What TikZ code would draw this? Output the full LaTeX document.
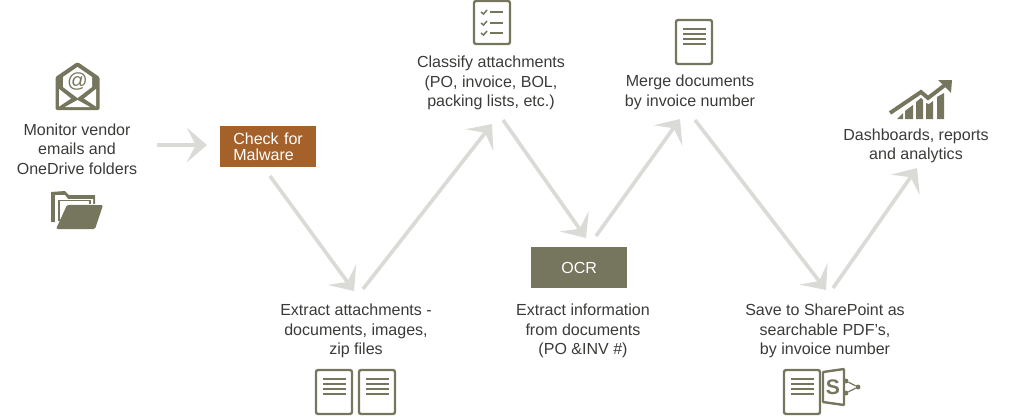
\documentclass[tikz,border=0pt]{standalone}
\usepackage{fontspec}
\setmainfont{Liberation Sans}
\usepackage{xcolor}
\usetikzlibrary{
  positioning,
  arrows.meta
}
\definecolor{olive}{HTML}{76765E}
\definecolor{rust}{HTML}{A5612A}
\definecolor{flow}{HTML}{DADAD6}
\definecolor{ink}{HTML}{3A3A38}
\tikzset{
  caption/.style={align=center,text=ink,font=\fontsize{11.4}{13.9}\selectfont,inner sep=0pt},
  stepbox/.style={fill=#1,text=white,font=\fontsize{11.4}{11.4}\selectfont,inner sep=0pt,minimum width=2.39cm,minimum height=1.025cm,anchor=north west},
  flowline/.style={draw=flow,line width=2.6pt,-{Stealth[length=14.5pt,width=25pt,inset=6.5pt]}},
  iconline/.style={draw=olive,line width=1.7pt,rounded corners=1.5pt},
  rowline/.style={draw=olive,line width=0.9pt},
  pics/docicon/.style={code={
    \draw [iconline] (0,0) rectangle (36,44);
    \foreach \y in {9,14,19,24}{
      \draw [rowline] (7,\y) -- (30,\y);
    }
  }}
}
\begin{document}
\begin{tikzpicture}[x=0.025cm,y=-0.025cm]
  \useasboundingbox (0,0) rectangle (1024,416);

  % labels
  \node [caption] (monitor) at (77,149) {Monitor vendor\\emails and\\OneDrive folders};
  \node [caption] (attach) at (356,331) {Extract attachments -\\documents, images,\\zip files};
  \node [caption] (classify) at (491,83) {Classify attachments\\(PO, invoice, BOL,\\packing lists, etc.)};
  \node [caption] (info) at (583,331) {Extract information\\from documents\\(PO \&INV \#)};
  \node [caption] (merge) at (690,92.5) {Merge documents\\by invoice number};
  \node [caption] (save) at (825,331) {Save to SharePoint as\\searchable PDF's,\\by invoice number};
  \node [caption] (dash) at (916,146) {Dashboards, reports\\and analytics};

  % boxes
  \node [stepbox=rust,text width=2.39cm,align=left] (malware) at (220,126) {\hspace*{0.325cm}Check for\\\hspace*{0.325cm}Malware};
  \node [stepbox=olive] (ocr) at (531,247) {OCR};

  % arrows
  \coordinate (a1) at (157,145);
  \coordinate (a2) at (207,145);
  \coordinate (b1) at (270,176);
  \coordinate (b2) at (354,291);
  \coordinate (c1) at (363,289);
  \coordinate (c2) at (492,124);
  \coordinate (d1) at (503,120);
  \coordinate (d2) at (586,238);
  \coordinate (e1) at (596,236);
  \coordinate (e2) at (680,119);
  \coordinate (f1) at (695,120);
  \coordinate (f2) at (826,290);
  \coordinate (g1) at (833,288);
  \coordinate (g2) at (917,168);
  \draw [flowline] (a1) -- (a2);
  \draw [flowline] (b1) -- (b2);
  \draw [flowline] (c1) -- (c2);
  \draw [flowline] (d1) -- (d2);
  \draw [flowline] (e1) -- (e2);
  \draw [flowline] (f1) -- (f2);
  \draw [flowline] (g1) -- (g2);

  % envelope
  \fill [olive,rounded corners=1pt] (77.5,62) -- (99.5,77) -- (99.5,110) -- (55.5,110) -- (55.5,77) -- cycle;
  \fill [white] (77.5,67) -- (92,77) -- (92,87) -- (77.5,98) -- (63,87) -- (63,77) -- cycle;
  \fill [white] (59,89) -- (71,98.5) -- (59,106.5) -- cycle;
  \fill [white] (96,89) -- (84,98.5) -- (96,106.5) -- cycle;
  \fill [white] (65,107) -- (77.5,100) -- (90,107) -- cycle;
  \node [inner sep=0pt,text=olive,font=\fontsize{14.5}{14.5}\selectfont] (at) at (77.5,82) {@};

  % folder
  \fill [olive] (51,192) -- (65,191) -- (69,195) -- (95,195) -- (95,204) -- (68,204) -- (56,222) -- (51,222) -- cycle;
  \fill [white] (55,195) -- (65,195) -- (68,199) -- (93,199) -- (93,204) -- (68,204) -- (58,222) -- (55,222) -- cycle;
  \draw [olive,line width=1pt] (59,221) -- (59,200.5) -- (90,200.5) -- (90,204);
  \fill [olive,rounded corners=1pt] (67,205) -- (103,205) -- (95,229) -- (56,229) -- cycle;

  % documents
  \pic at (316,370) {docicon};
  \pic at (359,370) {docicon};
  \pic at (676,20) {docicon};
  \pic at (784,370) {docicon};

  % checklist
  \draw [iconline] (474,1) rectangle (510,44);
  \foreach \y in {12,23,33}{
    \draw [olive,line width=1.1pt] (481,\y) -- (483.5,\y+2) -- (487,\y-2);
    \draw [rowline,line width=1.1pt] (490,\y) -- (503,\y);
  }

  % sharepoint
  \draw [iconline,rounded corners=0.5pt] (823,372) -- (844,369) -- (844,405) -- (823,402) -- cycle;
  \node [inner sep=0pt,text=olive,font=\fontsize{15}{15}\selectfont\bfseries] (spS) at (833,387) {S};
  \node [circle,fill=olive,inner sep=0pt,minimum size=3.5pt] (sp1) at (846,381) {};
  \node [circle,fill=olive,inner sep=0pt,minimum size=3.5pt] (sp2) at (846,393) {};
  \node [circle,fill=olive,inner sep=0pt,minimum size=3.5pt] (sp3) at (858,387) {};
  \draw [olive,line width=0.9pt] (sp1) -- (sp3) -- (sp2);

  % chart
  \draw [olive,line width=2.8pt] (890,113) -- (921,92) -- (928,98) -- (945,85);
  \fill [olive] (952,80) -- (951,93) -- (938,80) -- cycle;
  \fill [olive] (897,119) -- (903,113) -- (903,119) -- cycle;
  \fill [olive] (905,119) -- (905,111) -- (913,105) -- (913,119) -- cycle;
  \fill [olive] (916,119) -- (916,102) -- (921,98) -- (923,100) -- (923,119) -- cycle;
  \fill [olive] (926,119) -- (926,103) -- (929,104) -- (933,101) -- (933,119) -- cycle;
  \fill [olive] (937,119) -- (937,97) -- (944,93) -- (944,119) -- cycle;
\end{tikzpicture}
\end{document}
